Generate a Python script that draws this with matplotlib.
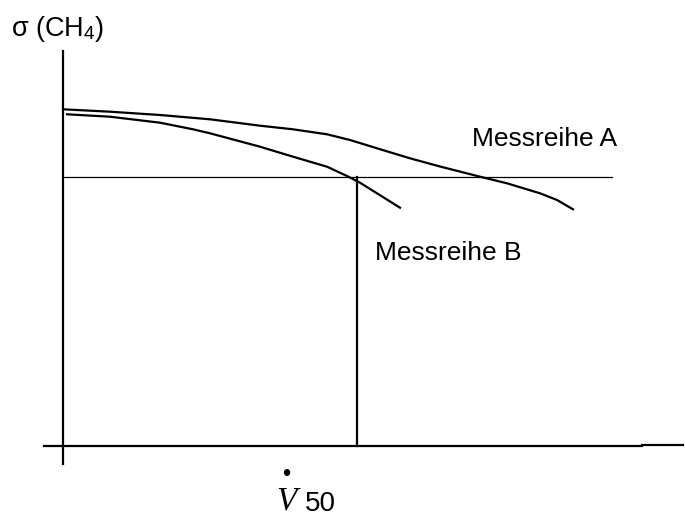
import matplotlib.pyplot as plt

plt.rcParams['font.family'] = ['Liberation Sans', 'DejaVu Sans']
plt.rcParams['mathtext.fontset'] = 'custom'
plt.rcParams['mathtext.rm'] = 'Liberation Sans'
plt.rcParams['mathtext.it'] = 'Liberation Serif:italic'

# schematic, values in pixel units (y grows downwards)
series_a_x = [63, 110, 160, 210, 260, 293, 327, 350, 377, 410, 440, 480, 507, 540, 557, 573]
series_a_y = [109.3, 111.7, 115, 119.3, 125.7, 129.3, 134.3, 140, 148.3, 158.3,
              166.5, 176.7, 183.3, 193.3, 200, 209.3]
series_b_x = [67, 110, 160, 193, 210, 260, 293, 327, 347, 360, 400]
series_b_y = [114.3, 116.7, 122.7, 129.3, 133.3, 146.7, 156.7, 166.7, 176, 182.7, 207.7]

sigma_level = 177
v50_pos = 357
labels = ["Messreihe A", "Messreihe B"]

fig = plt.figure(figsize=(6.85, 5.2), dpi=100)
ax = fig.add_axes([0, 0, 1, 1])
ax.set_xlim(0, 685)
ax.set_ylim(520, 0)
ax.axis('off')

# axes
ax.plot([63.5, 63.5], [51, 464], color='black', lw=1.6)
ax.plot([44, 642], [446, 446], color='black', lw=1.6)
ax.plot([642, 683], [444.5, 444.5], color='black', lw=1.6)

# curves
ax.plot(series_a_x, series_a_y, color='black', lw=1.6, solid_joinstyle='round')
ax.plot(series_b_x, series_b_y, color='black', lw=1.6, solid_joinstyle='round')

# reference lines
ax.plot([63, 612], [sigma_level, sigma_level], color='black', lw=0.9)
ax.plot([v50_pos, v50_pos], [sigma_level, 446], color='black', lw=1.6)

# labels
ax.text(472, 146, labels[0], fontsize=19, va='baseline')
ax.text(375, 260.5, labels[1], fontsize=19, va='baseline')
ax.text(11, 36, "σ (CH$_4$)", fontsize=19.5, va='baseline')

ax.text(276, 511, r"$\overset{•}{V}$", fontsize=24, va='baseline')
ax.text(305, 511, "50", fontsize=20, va='baseline')

fig.savefig("out.png", dpi=100)
